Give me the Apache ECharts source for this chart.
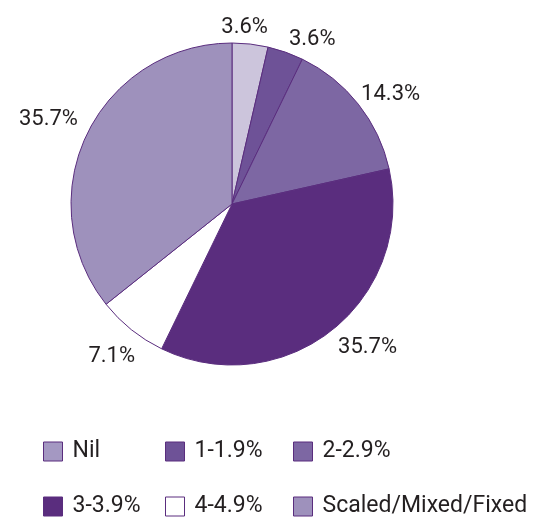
<!DOCTYPE html>
<html>
<head>
<meta charset="utf-8">
<script src="https://cdn.jsdelivr.net/npm/echarts@6/dist/echarts.min.js"></script>
<style>
  html, body { margin: 0; padding: 0; background: #fff; }
  #chart { width: 536px; height: 519px; }
</style>
</head>
<body>
<div id="chart"></div>
<script>
// 数据
const categories = ['Nil', '1-1.9%', '2-2.9%', '3-3.9%', '4-4.9%', 'Scaled/Mixed/Fixed'];
const values = [3.6, 3.6, 14.3, 35.7, 7.1, 35.7];
const sliceColors = ['#ccc5dc', '#6e5297', '#7d67a3', '#5a2d7e', '#ffffff', '#9e91bc'];
const legendColors = ['#a498c2', '#6e5297', '#7d67a3', '#5a2d7e', '#ffffff', '#9e91bc'];

// 标签微调 (相对库计算位置的偏移)
const labelShift = [[-30, -7], [0, -3], [-5, -3], [0, 9], [10, 19], [0, -10]];

// 图例位置 (两行三列)
const legendPos = [
    [43, 440], [165, 440], [293, 440],
    [43, 495], [165, 495], [293, 495]
];

const chart = echarts.init(document.getElementById('chart'), null, {renderer: 'canvas'});

const legends = categories.map((name, i) => ({
    left: legendPos[i][0],
    top: legendPos[i][1],
    padding: 0,
    itemWidth: 19,
    itemHeight: 19,
    itemGap: 0,
    icon: 'rect',
    selectedMode: false,
    textStyle: { fontFamily: 'Roboto', fontSize: 23, color: '#231f20', padding: [0, 0, 0, 5] },
    data: [{
        name: name,
        itemStyle: { color: legendColors[i], borderColor: '#5a2d7e', borderWidth: 1 }
    }]
}));

chart.setOption({
    animation: false,
    legend: legends,
    series: [{
        type: 'pie',
        center: [232, 204],
        radius: 161,
        startAngle: 90,
        clockwise: true,
        avoidLabelOverlap: false,
        label: {
            show: true,
            position: 'outside',
            formatter: (p) => p.value.toFixed(1) + '%',
            fontFamily: 'Roboto',
            fontSize: 22,
            color: '#231f20',
            distanceToLabelLine: 0
        },
        labelLine: { show: false, length: 10, length2: 0 },
        labelLayout: (p) => ({
            dx: labelShift[p.dataIndex][0],
            dy: labelShift[p.dataIndex][1],
            hideOverlap: false
        }),
        itemStyle: { borderColor: '#5a2d7e', borderWidth: 1 },
        data: categories.map((name, i) => ({
            name: name,
            value: values[i],
            itemStyle: { color: sliceColors[i] }
        }))
    }]
});
</script>
</body>
</html>
